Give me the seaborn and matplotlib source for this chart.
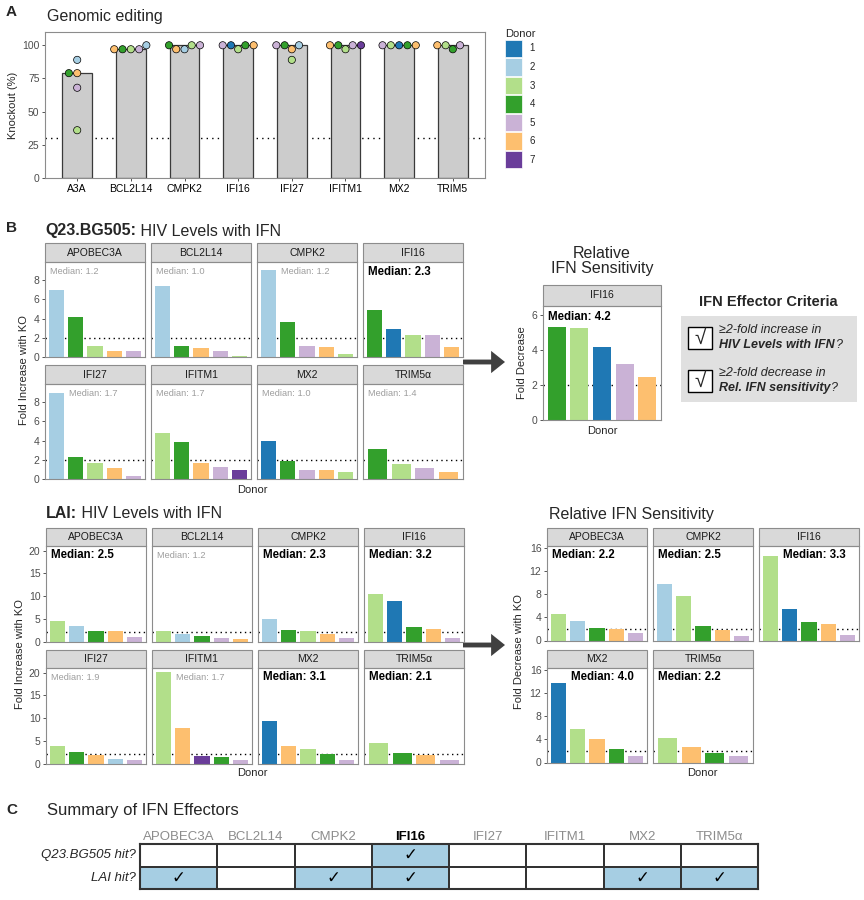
import numpy as np
import pandas as pd
import seaborn as sns
import matplotlib.pyplot as plt
from matplotlib.patches import Rectangle, Patch
from matplotlib.colors import ListedColormap

### Donor colours
donor_ids = ['1', '2', '3', '4', '5', '6', '7']
donor_colors = ['#1F78B4', '#A6CEE3', '#B2DF8A', '#33A02C', '#CAB2D6', '#FDBF6F', '#6A3D9A']

### Panel A: knockout efficiency per gene (donor, % KO)
ko_genes = ['A3A', 'BCL2L14', 'CMPK2', 'IFI16', 'IFI27', 'IFITM1', 'MX2', 'TRIM5']
ko_donors = [[2, 4, 6, 5, 3], [3, 4, 2, 5, 6], [3, 2, 4, 6, 5], [1, 4, 3, 5, 6],
             [2, 4, 6, 3, 5], [4, 5, 3, 6, 7], [1, 3, 4, 5, 6], [3, 5, 4, 6]]
ko_values = [[89, 79, 79, 68, 36], [97, 97, 100, 97, 97], [100, 97, 100, 97, 100], [100, 100, 97, 100, 100],
             [100, 100, 97, 89, 100], [100, 100, 97, 100, 100], [100, 100, 100, 100, 100], [100, 100, 97, 100]]
ko_cutoff = 30

### Panel B
effectors = ['APOBEC3A', 'BCL2L14', 'CMPK2', 'IFI16', 'IFI27', 'IFITM1', 'MX2', 'TRIM5α']
fold_cutoff = 2

q23_donors = [[2, 4, 3, 6, 5], [2, 4, 6, 5, 3], [2, 4, 5, 6, 3], [4, 1, 3, 5, 6],
              [2, 4, 3, 6, 5], [3, 4, 6, 5, 7], [1, 4, 5, 6, 3], [4, 3, 5, 6]]
q23_values = [[7.0, 4.15, 1.15, 0.65, 0.6], [7.35, 1.15, 0.9, 0.65, 0.15], [9.05, 3.65, 1.1, 1.05, 0.3],
              [4.9, 2.9, 2.3, 2.25, 1.0], [9.0, 2.3, 1.7, 1.1, 0.35], [4.8, 3.9, 1.65, 1.3, 0.9],
              [4.0, 1.85, 0.95, 0.9, 0.7], [3.1, 1.6, 1.1, 0.7]]
q23_medians = [1.2, 1.0, 1.2, 2.3, 1.7, 1.7, 1.0, 1.4]

q23_sens_genes = ['IFI16']
q23_sens_donors = [[4, 3, 1, 5, 6]]
q23_sens_values = [[5.3, 5.25, 4.15, 3.2, 2.45]]
q23_sens_medians = [4.2]

lai_donors = [[3, 2, 4, 6, 5], [3, 2, 4, 5, 6], [2, 4, 3, 6, 5], [3, 1, 4, 6, 5],
              [3, 4, 6, 2, 5], [3, 6, 7, 4, 5], [1, 6, 3, 4, 5], [3, 4, 6, 5]]
lai_values = [[4.6, 3.4, 2.4, 2.2, 0.9], [2.3, 1.6, 1.1, 0.7, 0.45], [4.9, 2.5, 2.2, 1.7, 0.7],
              [10.4, 8.8, 3.2, 2.7, 0.8], [3.9, 2.6, 1.8, 0.9, 0.7], [20.1, 7.8, 1.6, 1.5, 0.7],
              [9.4, 3.8, 3.1, 2.1, 0.7], [4.4, 2.2, 1.8, 0.8]]
lai_medians = [2.5, 1.2, 2.3, 3.2, 1.9, 1.7, 3.1, 2.1]

lai_sens_genes = ['APOBEC3A', 'CMPK2', 'IFI16', 'MX2', 'TRIM5α']
lai_sens_donors = [[3, 2, 4, 6, 5], [2, 3, 4, 6, 5], [3, 1, 4, 6, 5], [1, 3, 6, 4, 5], [3, 6, 4, 5]]
lai_sens_values = [[4.5, 3.4, 2.2, 1.9, 1.3], [9.8, 7.6, 2.5, 1.8, 0.8], [14.5, 5.4, 3.2, 2.8, 1.0],
                   [13.7, 5.8, 4.0, 2.4, 1.1], [4.2, 2.6, 1.7, 1.2]]
lai_sens_medians = [2.2, 2.5, 3.3, 4.0, 2.2]

palette = dict(zip(donor_ids, donor_colors))

sns.set_theme(style='white')
plt.rcParams['font.family'] = ['Liberation Sans', 'DejaVu Sans']
BORDER = '#8C8C8C'

W, H = 864, 900
fig = plt.figure(figsize=(W / 100, H / 100), dpi=100)

# overlay in pixel coords for titles / arrows / boxes
ov = fig.add_axes([0, 0, 1, 1])
ov.set_xlim(0, W)
ov.set_ylim(H, 0)
ov.axis('off')


def px_axes(x, y, w, h):
    return fig.add_axes([x / W, 1 - (y + h) / H, w / W, h / H])


def frame(ax):
    for s in ax.spines.values():
        s.set_visible(True)
        s.set_color(BORDER)
        s.set_linewidth(0.8)


def facet_grid(genes, donors, values, medians, ncol, left, top, width, step_x,
               strip_h, panel_h, step_y, ymax, yticks):
    for i, gene in enumerate(genes):
        r, c = divmod(i, ncol)
        ax = px_axes(left + c * step_x, top + r * step_y + strip_h, width, panel_h)
        n = len(values[i])
        df = pd.DataFrame({'rank': np.arange(n),
                           'donor': [str(d) for d in donors[i]],
                           'value': values[i]})
        ax.axhline(fold_cutoff, color='black', ls=(0, (1, 2.5)), lw=1, zorder=0)
        sns.barplot(data=df, x='rank', y='value', hue='donor', palette=palette,
                    dodge=False, width=0.8, saturation=1, legend=False,
                    linewidth=0, zorder=2, ax=ax)
        ax.set_xlim(-0.6, n - 0.4)
        ax.set_ylim(0, ymax)
        ax.set_xticks([])
        ax.set_xlabel('')
        ax.set_ylabel('')
        ax.set_yticks(yticks)
        if c == 0:
            ax.tick_params(axis='y', left=True, length=2.5, width=0.7, color='#555555',
                           labelsize=7.5, labelcolor='#4D4D4D', pad=1.5)
        else:
            ax.tick_params(axis='y', left=False, labelleft=False)
        frame(ax)
        frac = strip_h / panel_h
        ax.add_patch(Rectangle((0, 1), 1, frac, transform=ax.transAxes, clip_on=False,
                               facecolor='#D9D9D9', edgecolor=BORDER, lw=0.8))
        ax.text(0.5, 1 + frac / 2, gene, transform=ax.transAxes, ha='center', va='center',
                fontsize=7.5, color='#1A1A1A')
        # median label, moved right if the first bar reaches it
        m = medians[i]
        first_px = values[i][0] / ymax * panel_h
        xf = 24 / width if first_px > 0.9 * panel_h - 7 else 5 / width
        if m >= fold_cutoff:
            ax.text(xf, 0.9, f'Median: {m:.1f}', transform=ax.transAxes, ha='left', va='center',
                    fontsize=8.3, weight='bold', color='black')
        else:
            ax.text(xf, 0.9, f'Median: {m:.1f}', transform=ax.transAxes, ha='left', va='center',
                    fontsize=6.7, color='#9E9E9E')


### Panel A
ov.text(6, 12, 'A', fontsize=11, weight='bold', va='center')
ov.text(47, 17, 'Genomic editing', fontsize=11.5, va='center')

ko_df = pd.DataFrame({
    'gene': np.repeat(ko_genes, [len(v) for v in ko_values]),
    'donor': [str(d) for ds in ko_donors for d in ds],
    'value': [v for vs in ko_values for v in vs],
})
axA = px_axes(45, 32, 440, 146)
axA.axhline(ko_cutoff, color='black', ls=(0, (1, 3)), lw=1, zorder=0)
sns.barplot(data=ko_df, x='gene', y='value', order=ko_genes, estimator='median', errorbar=None,
            color='#CCCCCC', edgecolor='#3A3A3A', linewidth=0.9, width=0.55, saturation=1,
            zorder=2, ax=axA)
sns.swarmplot(data=ko_df, x='gene', y='value', order=ko_genes, hue='donor', palette=palette,
              size=5.2, edgecolor='black', linewidth=0.5, legend=False, zorder=3, ax=axA)
axA.set_xlim(-0.6, len(ko_genes) - 0.4)
axA.set_ylim(0, 110)
axA.set_yticks([0, 25, 50, 75, 100])
axA.set_xlabel('')
axA.set_ylabel('Knockout (%)', fontsize=8, labelpad=3)
axA.tick_params(axis='y', left=True, length=2.5, width=0.7, color='#555555',
                labelsize=7.5, labelcolor='#4D4D4D', pad=1.5)
axA.tick_params(axis='x', bottom=True, length=2.5, width=0.7, color='#555555',
                labelsize=7.5, labelcolor='black', pad=1.5)
frame(axA)

handles = [Patch(facecolor=c, edgecolor='white', lw=0.5) for c in donor_colors]
fig.legend(handles, donor_ids, title='Donor', loc='upper left',
           bbox_to_anchor=(496 / W, 1 - 20 / H), frameon=False, fontsize=7, title_fontsize=8,
           handlelength=1.75, handleheight=2.4, labelspacing=0.1, handletextpad=0.8,
           alignment='left')

### Panel B - Q23.BG505
ov.text(6, 228, 'B', fontsize=11, weight='bold', va='center')
t = ov.text(45, 231, 'Q23.BG505:', fontsize=11.5, weight='bold', va='center')
ov.annotate(' HIV Levels with IFN', xy=(1, 0.5), xycoords=t, fontsize=11.5, va='center', ha='left')

facet_grid(effectors, q23_donors, q23_values, q23_medians, 4, 45, 243, 100, 106,
           19, 95, 122, 9.9, [0, 2, 4, 6, 8])
ov.text(24, 370, 'Fold Increase with KO', rotation=90, fontsize=8, ha='center', va='center')
ov.text(252, 490, 'Donor', fontsize=8, ha='center', va='center')

ov.text(602, 261, 'Relative\nIFN Sensitivity', fontsize=11.5, ha='center', va='center',
        linespacing=1.05)
facet_grid(q23_sens_genes, q23_sens_donors, q23_sens_values, q23_sens_medians, 1, 543, 285, 118, 0,
           21, 114, 0, 6.5, [0, 2, 4, 6])
ov.text(522, 363, 'Fold Decrease', rotation=90, fontsize=8, ha='center', va='center')
ov.text(602, 431, 'Donor', fontsize=8, ha='center', va='center')

for ya in [362, 645]:
    ov.annotate('', xy=(505, ya), xytext=(463, ya),
                arrowprops=dict(facecolor='#404040', edgecolor='none', width=3.5,
                                headwidth=16, headlength=10))

# criteria box
ov.text(768, 302, 'IFN Effector Criteria', ha='center', va='center', fontsize=10.5, weight='bold')
ov.add_patch(Rectangle((681, 316), 176, 86, facecolor='#E0E0E0', edgecolor='none'))
for yb, line1, line2 in [(327, '≥2-fold increase in', 'HIV Levels with IFN'),
                         (370, '≥2-fold decrease in', 'Rel. IFN sensitivity')]:
    ov.add_patch(Rectangle((688, yb), 24, 22, facecolor='white', edgecolor='black', lw=1))
    ov.text(700, yb + 11, '√', ha='center', va='center', fontsize=15)
    ov.text(719, yb + 3, line1, style='italic', fontsize=9, ha='left', va='center')
    t = ov.text(719, yb + 18, line2, style='italic', weight='bold', fontsize=9, ha='left', va='center')
    ov.annotate('?', xy=(1, 0.5), xycoords=t, style='italic', fontsize=9, ha='left', va='center')

### Panel B - LAI
t = ov.text(46, 514, 'LAI:', fontsize=11.5, weight='bold', va='center')
ov.annotate(' HIV Levels with IFN', xy=(1, 0.5), xycoords=t, fontsize=11.5, va='center', ha='left')
facet_grid(effectors, lai_donors, lai_values, lai_medians, 4, 46, 528, 100, 106,
           17.5, 96, 122, 21.1, [0, 5, 10, 15, 20])
ov.text(20, 654, 'Fold Increase with KO', rotation=90, fontsize=8, ha='center', va='center')
ov.text(252, 773, 'Donor', fontsize=8, ha='center', va='center')

ov.text(549, 514, 'Relative IFN Sensitivity', fontsize=11.5, va='center')
facet_grid(lai_sens_genes, lai_sens_donors, lai_sens_values, lai_sens_medians, 3, 547, 528, 100, 106,
           17.5, 95, 122, 16.35, [0, 4, 8, 12, 16])
ov.text(519, 652, 'Fold Decrease with KO', rotation=90, fontsize=8, ha='center', va='center')
ov.text(702, 773, 'Donor', fontsize=8, ha='center', va='center')

### Panel C - summary table
ov.text(6, 810, 'C', fontsize=11, weight='bold', va='center')
ov.text(47, 810, 'Summary of IFN Effectors', fontsize=12, va='center')

hit_q23 = []
hit_lai = []
for i, g in enumerate(effectors):
    hit_q23.append(int(q23_medians[i] >= fold_cutoff and g in q23_sens_genes
                       and q23_sens_medians[q23_sens_genes.index(g)] >= fold_cutoff))
    hit_lai.append(int(lai_medians[i] >= fold_cutoff and g in lai_sens_genes
                       and lai_sens_medians[lai_sens_genes.index(g)] >= fold_cutoff))
hits = pd.DataFrame([hit_q23, hit_lai], index=['Q23.BG505 hit?', 'LAI hit?'], columns=effectors)
annot = np.where(hits.values == 1, '✓', '')

axC = px_axes(140, 844, 618, 45)
sns.heatmap(hits, ax=axC, cmap=ListedColormap(['white', '#A6CEE3']), vmin=0, vmax=1, cbar=False,
            linewidths=1.2, linecolor='#333333', annot=annot, fmt='',
            xticklabels=True, yticklabels=True,
            annot_kws=dict(fontsize=12, color='black', family='DejaVu Sans', weight='bold'))
axC.tick_params(axis='x', top=False, bottom=False, labeltop=True, labelbottom=False, length=0, pad=1)
axC.tick_params(axis='y', left=False, length=0, pad=3)
axC.set_xlabel('')
axC.set_ylabel('')
both = [a and b for a, b in zip(hit_q23, hit_lai)]
axC.set_xticklabels(effectors, rotation=0, fontsize=9.5)
for lab, b in zip(axC.get_xticklabels(), both):
    if b:
        lab.set_color('black')
        lab.set_fontweight('bold')
    else:
        lab.set_color('#8C8C8C')
axC.set_yticklabels(hits.index, rotation=0, fontsize=9.5, style='italic')
for s in axC.spines.values():
    s.set_visible(True)
    s.set_color('#333333')
    s.set_linewidth(1.5)

fig.savefig('out.png', dpi=100)
